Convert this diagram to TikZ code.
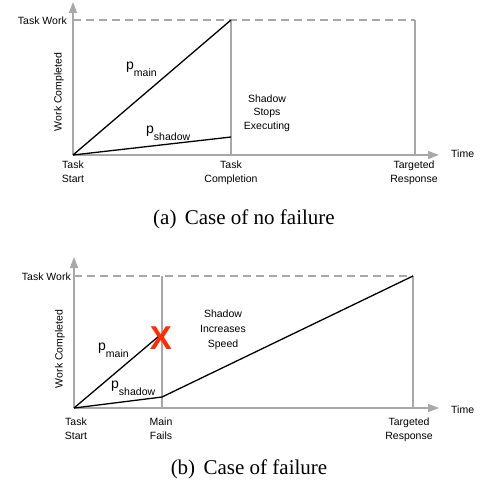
\documentclass[tikz,border=0pt]{standalone}
\usepackage{fontspec}
\setmainfont{Liberation Serif}
\setsansfont{Liberation Sans}
\usetikzlibrary{arrows.meta}
\usetikzlibrary{positioning}
\definecolor{axisgray}{RGB}{168,168,168}
\definecolor{failred}{RGB}{255,42,0}
\newcommand{\prate}[1]{{\fontsize{14}{14}\selectfont p}\raisebox{-7pt}{#1}}

\begin{document}
\begin{tikzpicture}[x=1pt, y=-1pt, font=\sffamily\fontsize{10.5}{14}\selectfont]
\tikzstyle{axis}=[draw=axisgray, line width=1.5pt, -{Triangle[length=11pt,width=8pt]}]
\tikzstyle{guide}=[draw=axisgray, line width=1.5pt]
\tikzstyle{target}=[draw=axisgray, line width=1.5pt, dash pattern=on 8pt off 5pt]
\tikzstyle{work}=[draw=black, line width=1.3pt]
\tikzstyle{annot}=[inner sep=0pt, align=center]
\tikzstyle{caption}=[inner sep=0pt, font=\rmfamily\fontsize{21}{24}\selectfont]

\useasboundingbox (0,0) rectangle (481,493);

% (a) no failure
\coordinate (oA) at (73,155);
\coordinate (yA) at (73,2);
\coordinate (xA) at (439,155);
\coordinate (twA) at (73,20);
\coordinate (tcA) at (231,155);
\coordinate (tcAtop) at (231,20);
\coordinate (trA) at (415,155);
\coordinate (trAtop) at (415,20);
\coordinate (shA) at (231,137);

\draw[guide] (tcA) -- (tcAtop);
\draw[guide] (trA) -- (trAtop);
\draw[target] (twA) -- (trAtop);
\draw[axis] (oA) -- (yA);
\draw[axis] (oA) -- (xA);
\draw[work] (oA) -- (tcAtop);
\draw[work] (oA) -- (shA);

\node[annot, anchor=east] (twlabelA) at (67,21) {Task Work};
\node[annot, rotate=90] (wcA) at (59,92) {Work Completed};
\node[annot, anchor=base west] (pmainA) at (126,69) {\prate{main}};
\node[annot, anchor=base west] (pshadowA) at (146,133) {\prate{shadow}};
\node[annot, font=\sffamily\fontsize{10.5}{13.5}\selectfont] (stopA) at (267,113) {Shadow\\Stops\\Executing};
\node[annot, anchor=north] (startA) at (73,161) {Task\\Start};
\node[annot, anchor=north] (complA) at (231,161) {Task\\Completion};
\node[annot, anchor=north] (respA) at (414,161) {Targeted\\Response};
\node[annot, anchor=west] (timeA) at (451,154) {Time};
\node[caption] (capA) at (244,219) {(a)\hspace{0.4em}Case of no failure};

% (b) failure
\coordinate (oB) at (74,408);
\coordinate (yB) at (74,257);
\coordinate (xB) at (439,408);
\coordinate (twB) at (74,276);
\coordinate (mfB) at (162,408);
\coordinate (mfBtop) at (162,276);
\coordinate (trB) at (413,408);
\coordinate (trBtop) at (413,276);
\coordinate (failB) at (159,336);
\coordinate (shB) at (162,397);

\draw[guide] (mfB) -- (mfBtop);
\draw[guide] (trB) -- (trBtop);
\draw[target] (twB) -- (trBtop);
\draw[axis] (oB) -- (yB);
\draw[axis] (oB) -- (xB);
\draw[work] (oB) -- (failB);
\draw[work] (oB) -- (shB) -- (trBtop);

\node[annot, text=failred, font=\sffamily\bfseries\fontsize{33}{33}\selectfont] (xmark) at (161,338) {X};

\node[annot, anchor=east] (twlabelB) at (71,277) {Task Work};
\node[annot, rotate=90] (wcB) at (60,349) {Work Completed};
\node[annot, anchor=base west] (pmainB) at (98,350) {\prate{main}};
\node[annot, anchor=base west] (pshadowB) at (111,388) {\prate{shadow}};
\node[annot, font=\sffamily\fontsize{10.5}{15}\selectfont] (speedB) at (223,330) {Shadow\\Increases\\Speed};
\node[annot, anchor=north] (startB) at (76,418) {Task\\Start};
\node[annot, anchor=north] (failsB) at (161,418) {Main\\Fails};
\node[annot, anchor=north] (respB) at (409,418) {Targeted\\Response};
\node[annot, anchor=west] (timeB) at (451,410) {Time};
\node[caption] (capB) at (249,469) {(b)\hspace{0.4em}Case of failure};
\end{tikzpicture}
\end{document}
